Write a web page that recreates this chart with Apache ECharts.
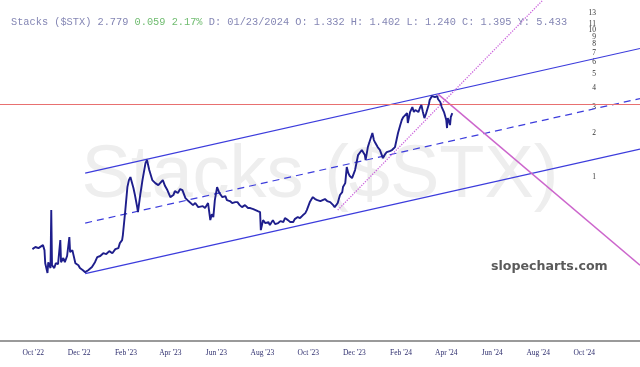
<!DOCTYPE html>
<html>
<head>
<meta charset="utf-8">
<script src="https://cdn.jsdelivr.net/npm/echarts@6/dist/echarts.min.js"></script>
<style>
html, body { margin: 0; padding: 0; background: #fff; }
#chart { width: 640px; height: 367px; }
</style>
</head>
<body>
<div id="chart"></div>
<script>
// price path
var priceDates = [
  '2022-09-30','2022-10-04','2022-10-08','2022-10-10','2022-10-14','2022-10-16','2022-10-17','2022-10-20','2022-10-21','2022-10-24',
  '2022-10-25','2022-10-26','2022-10-29','2022-10-31','2022-11-03','2022-11-06','2022-11-07','2022-11-10','2022-11-12','2022-11-15',
  '2022-11-18','2022-11-19','2022-11-22','2022-11-26','2022-11-30','2022-12-02','2022-12-06','2022-12-09','2022-12-13','2022-12-18',
  '2022-12-22','2022-12-25','2022-12-29','2023-01-02','2023-01-06','2023-01-10','2023-01-14','2023-01-18','2023-01-22','2023-01-24',
  '2023-01-27','2023-01-28','2023-01-31','2023-02-03','2023-02-05','2023-02-07','2023-02-11','2023-02-13','2023-02-16','2023-02-17',
  '2023-02-20','2023-02-23','2023-02-27','2023-03-01','2023-03-04','2023-03-08','2023-03-12','2023-03-16','2023-03-18','2023-03-22',
  '2023-03-25','2023-03-28','2023-04-01','2023-04-05','2023-04-07','2023-04-11','2023-04-14','2023-04-17','2023-04-21','2023-04-25',
  '2023-04-27','2023-05-01','2023-05-04','2023-05-08','2023-05-10','2023-05-14','2023-05-17','2023-05-21','2023-05-24','2023-05-26',
  '2023-05-28','2023-05-30','2023-06-02','2023-06-05','2023-06-09','2023-06-13','2023-06-15','2023-06-19','2023-06-22','2023-06-26',
  '2023-06-29','2023-07-02','2023-07-05','2023-07-09','2023-07-13','2023-07-16','2023-07-20','2023-07-22','2023-07-26','2023-07-29',
  '2023-07-30','2023-08-02','2023-08-05','2023-08-09','2023-08-11','2023-08-15','2023-08-18','2023-08-22','2023-08-25','2023-08-29',
  '2023-08-31','2023-09-04','2023-09-07','2023-09-11','2023-09-13','2023-09-17','2023-09-20','2023-09-24','2023-09-27','2023-09-29',
  '2023-10-03','2023-10-07','2023-10-10','2023-10-13','2023-10-17','2023-10-19','2023-10-23','2023-10-26','2023-10-30','2023-11-03',
  '2023-11-05','2023-11-09','2023-11-12','2023-11-15','2023-11-16','2023-11-19','2023-11-21','2023-11-23','2023-11-25','2023-11-28',
  '2023-12-02','2023-12-06','2023-12-09','2023-12-11','2023-12-15','2023-12-16','2023-12-19','2023-12-22','2023-12-25','2023-12-27',
  '2023-12-29','2024-01-01','2024-01-04','2024-01-08','2024-01-11','2024-01-13','2024-01-17','2024-01-20','2024-01-24','2024-01-26',
  '2024-01-28','2024-01-31','2024-02-02','2024-02-04','2024-02-06','2024-02-09','2024-02-10','2024-02-13','2024-02-16','2024-02-18',
  '2024-02-20','2024-02-24','2024-02-26','2024-02-28','2024-03-01','2024-03-03','2024-03-05','2024-03-06','2024-03-09','2024-03-10',
  '2024-03-13','2024-03-14','2024-03-17','2024-03-20','2024-03-21','2024-03-24','2024-03-26','2024-03-29','2024-03-30','2024-04-01',
  '2024-04-02','2024-04-03','2024-04-05','2024-04-06','2024-04-07','2024-04-09'
];
var priceValues = [
  0.324,0.335,0.329,0.334,0.345,0.319,0.260,0.223,0.264,0.241,
  0.597,0.252,0.241,0.260,0.256,0.373,0.264,0.282,0.264,0.291,
  0.391,0.309,0.319,0.260,0.252,0.241,0.233,0.226,0.233,0.245,
  0.264,0.286,0.291,0.304,0.300,0.314,0.304,0.324,0.329,0.356,
  0.373,0.404,0.578,0.855,0.954,1.000,0.842,0.755,0.625,0.578,
  0.755,0.954,1.245,1.305,1.116,0.954,0.910,0.882,0.855,0.954,
  0.869,0.816,0.731,0.755,0.803,0.779,0.829,0.816,0.720,0.687,
  0.666,0.645,0.666,0.625,0.625,0.635,0.616,0.666,0.510,0.560,
  0.535,0.698,0.855,0.779,0.731,0.743,0.698,0.687,0.666,0.676,
  0.676,0.645,0.625,0.645,0.616,0.616,0.606,0.597,0.587,0.578,
  0.436,0.510,0.487,0.495,0.472,0.510,0.479,0.487,0.502,0.495,
  0.527,0.510,0.495,0.495,0.518,0.535,0.527,0.552,0.569,0.597,
  0.676,0.731,0.709,0.698,0.687,0.676,0.709,0.687,0.676,0.645,
  0.625,0.666,0.755,0.791,0.855,0.910,1.169,1.065,1.016,0.984,
  1.116,1.411,1.479,1.526,1.411,1.305,1.599,1.784,1.991,1.784,
  1.702,1.599,1.526,1.346,1.433,1.479,1.502,1.526,1.599,1.784,
  1.991,2.256,2.440,2.557,2.638,2.722,2.328,2.765,2.990,2.765,
  2.853,2.765,2.944,3.085,2.765,2.517,2.680,2.722,3.134,3.336,
  3.552,3.607,3.497,3.552,3.389,3.233,2.990,2.765,2.722,2.440,
  2.153,2.517,2.365,2.256,2.557,2.722
];

var xTickDates = ['2022-10-01','2022-12-01','2023-02-01','2023-04-01','2023-06-01','2023-08-01','2023-10-01',
  '2023-12-01','2024-02-01','2024-04-01','2024-06-01','2024-08-01','2024-10-01'];
var xTickLabels = ["Oct '22","Dec '22","Feb '23","Apr '23","Jun '23","Aug '23","Oct '23",
  "Dec '23","Feb '24","Apr '24","Jun '24","Aug '24","Oct '24"];
var yTickValues = [1, 2, 3, 4, 5, 6, 7, 8, 9, 10, 11, 12, 13];

// drawn channel and trend lines
var channelDates = ['2022-12-09', '2024-12-14'];
var upperLine = [1.065, 7.47];
var midLine = [0.487, 3.415];
var lowerLine = [0.221, 1.55];
var resistance = 3.13;
var riseDates = ['2023-11-09', '2024-08-07'];
var riseLine = [0.597, 15.9];
var fallDates = ['2024-03-21', '2024-12-14'];
var fallLine = [3.66, 0.252];

function ts(s) {
  var p = s.split('-');
  return Date.UTC(+p[0], p[1] - 1, +p[2]);
}
function pairs(dates, vals) {
  return dates.map(function(d, i) { return [ts(d), vals[i]]; });
}
var xTickTs = xTickDates.map(ts);

function trend(data, color, type, width) {
  return {
    type: 'line', data: data, showSymbol: false, silent: true, z: 3,
    lineStyle: { color: color, type: type, width: width }
  };
}

var chart = echarts.init(document.getElementById('chart'), null, { renderer: 'canvas' });
chart.setOption({
  animation: false,
  backgroundColor: '#fff',
  title: {
    left: 6, top: 12,
    text: '{a|Stacks ($STX) 2.779 }{g|0.059 2.17%}{a| D: 01/23/2024 O: 1.332 H: 1.402 L: 1.240 C: 1.395 Y: 5.433}',
    textStyle: {
      fontWeight: 'normal',
      rich: {
        a: { fontFamily: 'Liberation Mono', fontSize: 10.3, fontWeight: 'normal', color: '#8486b4' },
        g: { fontFamily: 'Liberation Mono', fontSize: 10.3, fontWeight: 'normal', color: '#70bc70' }
      }
    }
  },
  graphic: [
    {
      type: 'text', left: 'center', top: 140, z: 0, silent: true,
      style: { text: 'Stacks ($STX)', fill: '#eeeeee', font: '74px "Liberation Sans"' }
    },
    {
      type: 'text', left: 491, top: 260, z: 10, silent: true,
      style: { text: 'slopecharts.com', fill: '#5a5a5a', font: 'bold 12.6px "DejaVu Sans"' }
    }
  ],
  grid: { left: 0, right: 0, top: 0, bottom: 26 },
  xAxis: {
    type: 'value',
    min: ts('2022-08-18'),
    max: ts('2024-12-14'),
    axisLine: { lineStyle: { color: '#9a9a9a', width: 2 } },
    axisTick: { show: false },
    splitLine: { show: false },
    axisLabel: {
      customValues: xTickTs,
      margin: 8,
      color: '#2e2e6e',
      fontFamily: 'Liberation Serif',
      fontSize: 7.5,
      formatter: function(v) {
        for (var i = 0; i < xTickTs.length; i++) {
          if (Math.abs(xTickTs[i] - v) < 86400000) return xTickLabels[i];
        }
        return '';
      }
    }
  },
  yAxis: {
    type: 'log',
    logBase: 2,
    min: 0.077,
    max: 15.95,
    position: 'right',
    axisLine: { show: false },
    axisTick: { show: false },
    splitLine: { show: false },
    axisLabel: {
      inside: true,
      margin: 44,
      customValues: yTickValues,
      showMinLabel: true,
      showMaxLabel: true,
      hideOverlap: false,
      color: '#333',
      fontFamily: 'Liberation Serif',
      fontSize: 7.5
    }
  },
  series: [
    {
      type: 'line',
      data: pairs(priceDates, priceValues),
      showSymbol: false,
      z: 5,
      lineStyle: { color: '#1e1e8c', width: 1.9 },
      markLine: {
        silent: true,
        symbol: 'none',
        label: { show: false },
        lineStyle: { color: '#e87070', width: 1.2, type: 'solid' },
        data: [{ yAxis: resistance }]
      }
    },
    trend(pairs(channelDates, upperLine), '#3c3cdc', 'solid', 1.2),
    trend(pairs(channelDates, midLine), '#3c3cdc', [7, 5], 1.2),
    trend(pairs(channelDates, lowerLine), '#3c3cdc', 'solid', 1.2),
    trend(pairs(riseDates, riseLine), '#cc66dd', 'dotted', 1.3),
    trend(pairs(fallDates, fallLine), '#cc66cc', 'solid', 1.5)
  ]
});
</script>
</body>
</html>
